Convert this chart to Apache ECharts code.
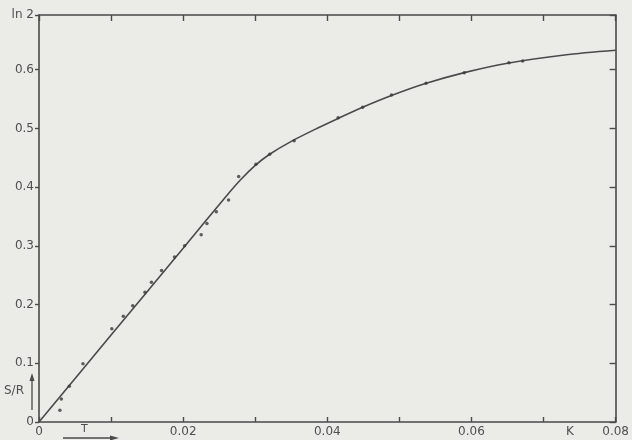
<!DOCTYPE html>
<html>
<head>
<meta charset="utf-8">
<script src="https://cdn.jsdelivr.net/npm/echarts@6/dist/echarts.min.js"></script>
<style>
  html, body { margin: 0; padding: 0; background: #ebebe8; }
  #chart { width: 632px; height: 440px; }
</style>
</head>
<body>
<div id="chart"></div>
<script>
// Entropy S/R of the spin system against temperature T (K)
const curveT = [0, 0.010, 0.020, 0.0260, 0.0280, 0.0300, 0.0320, 0.0350, 0.0389, 0.0415, 0.0449, 0.0489, 0.0535, 0.0590, 0.0650, 0.0729, 0.0800];
const curveS = [0, 0.148, 0.296, 0.385, 0.413, 0.437, 0.456, 0.478, 0.502, 0.517, 0.536, 0.556, 0.576, 0.595, 0.611, 0.625, 0.633];

// measured points
const pointT = [0.0029, 0.0031, 0.0042, 0.0061, 0.0101, 0.0117, 0.0130, 0.0147, 0.0156, 0.0170, 0.0188, 0.0202, 0.0225, 0.0233, 0.0246, 0.0263, 0.0277, 0.0301, 0.0320, 0.0354, 0.0415, 0.0449, 0.0489, 0.0537, 0.0590, 0.0652, 0.0671];
const pointS = [0.020, 0.039, 0.061, 0.099, 0.159, 0.180, 0.198, 0.221, 0.238, 0.258, 0.281, 0.300, 0.319, 0.338, 0.358, 0.378, 0.418, 0.439, 0.456, 0.479, 0.518, 0.536, 0.557, 0.577, 0.595, 0.612, 0.615];

const xLabels = ['0', '0.02', '0.04', '0.06', '0.08'];
const yLabels = ['0', '0.1', '0.2', '0.3', '0.4', '0.5', '0.6'];
const yTopLabel = 'ln 2';

const ink = '#4a4a4a';
const textInk = '#4f4f4f';
const font = 'DejaVu Sans';

const chart = echarts.init(document.getElementById('chart'), null, { renderer: 'canvas' });

const lineStyle = { color: ink, width: 1.6 };

chart.setOption({
  backgroundColor: '#ebebe8',
  animation: false,
  grid: { left: 39, right: 15, top: 15, bottom: 18, containLabel: false },
  xAxis: [
    {
      type: 'value', min: 0, max: 0.08, interval: 0.01, position: 'bottom',
      axisLine: { onZero: false, lineStyle: lineStyle },
      axisTick: { inside: true, length: 5, lineStyle: { color: ink, width: 1.4 } },
      splitLine: { show: false },
      axisLabel: {
        margin: 4, color: textInk, fontFamily: font, fontSize: 12,
        formatter: function (v) {
          const i = Math.round(v / 0.02);
          return Math.abs(v - i * 0.02) < 1e-9 ? xLabels[i] : '';
        }
      }
    },
    {
      type: 'value', min: 0, max: 0.08, interval: 0.01, position: 'top',
      axisLine: { onZero: false, lineStyle: lineStyle },
      axisTick: { inside: true, length: 6, lineStyle: { color: ink, width: 1.4 } },
      axisLabel: { show: false },
      splitLine: { show: false }
    }
  ],
  yAxis: [
    {
      type: 'value', min: 0, max: Math.LN2, interval: 0.1, position: 'left',
      axisLine: { onZero: false, lineStyle: lineStyle },
      axisTick: { inside: false, length: 4, lineStyle: { color: ink, width: 1.4 } },
      splitLine: { show: false },
      axisLabel: {
        margin: 5, color: textInk, fontFamily: font, fontSize: 12, showMaxLabel: true,
        formatter: function (v) {
          if (Math.abs(v - Math.LN2) < 1e-6) return yTopLabel;
          const i = Math.round(v / 0.1);
          return yLabels[i] !== undefined ? yLabels[i] : '';
        }
      }
    },
    {
      type: 'value', min: 0, max: Math.LN2, interval: 0.1, position: 'right',
      axisLine: { onZero: false, lineStyle: lineStyle },
      axisTick: { inside: true, length: 6, lineStyle: { color: ink, width: 1.4 } },
      axisLabel: { show: false },
      splitLine: { show: false }
    }
  ],
  series: [
    {
      type: 'line',
      data: curveT.map((t, i) => [t, curveS[i]]),
      smooth: 0.3,
      showSymbol: false,
      lineStyle: { color: ink, width: 1.6 },
      z: 2
    },
    {
      type: 'scatter',
      data: pointT.map((t, i) => [t, pointS[i]]),
      symbol: 'circle',
      symbolSize: 3.5,
      itemStyle: { color: '#3a3a3a' },
      z: 3
    }
  ],
  graphic: [
    // S/R with upward arrow
    { type: 'text', left: 4, top: 385, style: { text: 'S/R', fill: textInk, font: '12px "DejaVu Sans"' } },
    { type: 'line', shape: { x1: 32, y1: 410, x2: 32, y2: 378 }, style: { stroke: ink, lineWidth: 1.3 } },
    { type: 'polygon', shape: { points: [[32, 373], [29.5, 381], [34.5, 381]] }, style: { fill: ink } },
    // T with rightward arrow
    { type: 'text', left: 81, top: 424, style: { text: 'T', fill: textInk, font: '11px "DejaVu Sans"' } },
    { type: 'line', shape: { x1: 63, y1: 438, x2: 112, y2: 438 }, style: { stroke: ink, lineWidth: 1.3 } },
    { type: 'polygon', shape: { points: [[119, 438], [110, 435.5], [110, 440.5]] }, style: { fill: ink } },
    // unit
    { type: 'text', left: 566, top: 426, style: { text: 'K', fill: textInk, font: '12px "DejaVu Sans"' } }
  ]
});
</script>
</body>
</html>
